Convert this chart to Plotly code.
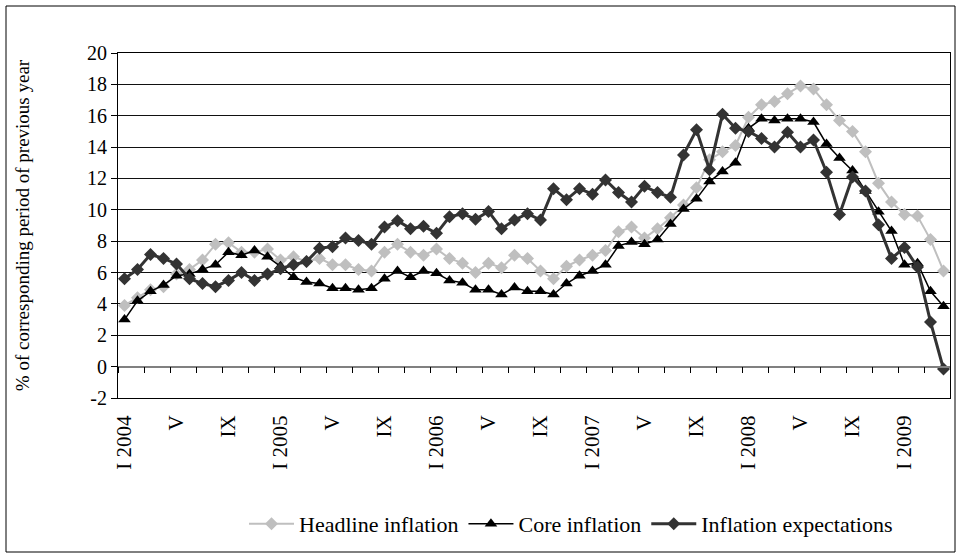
import plotly.graph_objects as go

# Monthly categories, Jan 2004 - Apr 2009
months = [f"{y}-{m:02d}" for y in range(2004, 2010) for m in range(1, 13)][:64]

headline = [3.9, 4.4, 4.9, 5.1, 5.9, 6.2, 6.8, 7.8, 7.9, 7.3, 7.3, 7.5,
            6.8, 7.0, 6.7, 6.9, 6.5, 6.5, 6.2, 6.1, 7.3, 7.8, 7.3, 7.1,
            7.5, 6.9, 6.6, 6.0, 6.6, 6.3, 7.1, 6.9, 6.1, 5.6, 6.4, 6.8,
            7.1, 7.4, 8.6, 8.9, 8.2, 8.8, 9.5, 10.3, 11.4, 13.2, 13.7, 14.1,
            15.9, 16.7, 16.9, 17.4, 17.9, 17.7, 16.7, 15.7, 15.0, 13.7, 11.7, 10.5,
            9.7, 9.6, 8.1, 6.1]

core = [3.0, 4.2, 4.8, 5.2, 5.8, 5.9, 6.2, 6.5, 7.3, 7.1, 7.4, 7.0,
        6.4, 5.7, 5.4, 5.3, 5.0, 5.0, 4.9, 5.0, 5.6, 6.1, 5.7, 6.1,
        5.95, 5.5, 5.35, 4.9, 4.9, 4.6, 5.05, 4.8, 4.8, 4.6, 5.3, 5.8,
        6.1, 6.5, 7.7, 7.95, 7.8, 8.1, 9.1, 10.05, 10.7, 11.8, 12.45, 13.0,
        15.2, 15.8, 15.7, 15.8, 15.8, 15.6, 14.2, 13.3, 12.5, 11.2, 9.87, 8.65,
        6.5, 6.6, 4.8, 3.85]

expectations = [5.6, 6.2, 7.15, 6.9, 6.55, 5.6, 5.3, 5.1, 5.5, 6.0, 5.5, 5.9,
                6.25, 6.5, 6.7, 7.55, 7.65, 8.2, 8.05, 7.8, 8.9, 9.3, 8.8, 8.95,
                8.5, 9.55, 9.75, 9.4, 9.9, 8.8, 9.35, 9.75, 9.35, 11.35, 10.65, 11.35,
                11.0, 11.9, 11.1, 10.5, 11.5, 11.1, 10.8, 13.5, 15.1, 12.55, 16.1, 15.2,
                15.0, 14.55, 14.0, 14.95, 14.0, 14.45, 12.4, 9.7, 12.1, 11.2, 9.05, 6.9,
                7.6, 6.35, 2.85, -0.15]

tick_vals = months[0::4]
tick_text = ["I 2004", "V", "IX", "I 2005", "V", "IX", "I 2006", "V", "IX",
             "I 2007", "V", "IX", "I 2008", "V", "IX", "I 2009"]

y_tick_vals = list(range(-2, 21, 2))
y_tick_text = [str(v) for v in y_tick_vals]

FONT = "Liberation Serif"

fig = go.Figure()
fig.add_trace(go.Scatter(
    x=months, y=headline, name="Headline inflation", mode="lines+markers",
    line=dict(color="#BFBFBF", width=2),
    marker=dict(symbol="diamond", size=10, color="#BFBFBF")))
fig.add_trace(go.Scatter(
    x=months, y=core, name="Core inflation", mode="lines+markers",
    line=dict(color="#000000", width=1.5),
    marker=dict(symbol="triangle-up", size=11, color="#000000")))
fig.add_trace(go.Scatter(
    x=months, y=expectations, name="Inflation expectations", mode="lines+markers",
    line=dict(color="#333333", width=3),
    marker=dict(symbol="diamond", size=10, color="#333333")))
# invisible trace to carry the zero-crossing category axis
fig.add_trace(go.Scatter(
    x=months, y=headline, xaxis="x2", mode="lines", showlegend=False,
    hoverinfo="skip", line=dict(color="rgba(0,0,0,0)")))

L, R, T, B = 118, 12, 53, 161
W, H = 962, 559
pw, ph = W - L - R, H - T - B

fig.update_layout(
    width=W, height=H,
    margin=dict(l=L, r=R, t=T, b=B, autoexpand=False),
    paper_bgcolor="white", plot_bgcolor="white",
    font=dict(family=FONT, size=20, color="#000"),
    showlegend=True,
    legend=dict(orientation="h", x=(571 - L) / pw, xanchor="center",
                y=(H - B - 524) / ph, yanchor="middle",
                font=dict(family=FONT, size=22, color="#000"), itemwidth=45,
                traceorder="normal", bgcolor="rgba(0,0,0,0)"),
    xaxis=dict(type="category", categoryorder="array", categoryarray=months,
               range=[-0.5, len(months) - 0.5],
               tickmode="array", tickvals=tick_vals, ticktext=tick_text,
               tickangle=-90, ticks="outside", ticklen=8,
               tickcolor="rgba(0,0,0,0)", showgrid=False,
               showline=True, linecolor="#000", linewidth=1, mirror=True,
               tickfont=dict(family=FONT, size=21, color="#000"),
               zeroline=False),
    xaxis2=dict(type="category", categoryorder="array", categoryarray=months,
                overlaying="x", matches="x", anchor="free",
                position=2 / 22, side="bottom",
                showticklabels=False, ticks="outside", ticklen=6,
                tickson="boundaries", tickcolor="#000", tickwidth=1,
                showline=True, linecolor="#808080", linewidth=1.5,
                showgrid=False, zeroline=False),
    yaxis=dict(range=[-2, 20], tickmode="array", tickvals=y_tick_vals,
               ticktext=y_tick_text, showgrid=True,
               gridcolor="#111", gridwidth=1, zeroline=False,
               showline=True, linecolor="#000", linewidth=1, mirror=True,
               ticks="outside", ticklen=6, tickcolor="#000",
               tickfont=dict(family=FONT, size=20, color="#000"),
               title=dict(text="% of corresponding period of previous year",
                          font=dict(family=FONT, size=19, color="#000"),
                          standoff=52)),
    shapes=[dict(type="rect", xref="paper", yref="paper",
                 x0=(6 - L) / pw, x1=(955 - L) / pw,
                 y0=(H - B - 552) / ph, y1=(H - B - 6) / ph,
                 line=dict(color="#000", width=1), fillcolor="rgba(0,0,0,0)",
                 layer="below")],
)

fig.write_html("out.html", config={"displayModeBar": False},
               post_script="document.body.style.margin='0px';")
